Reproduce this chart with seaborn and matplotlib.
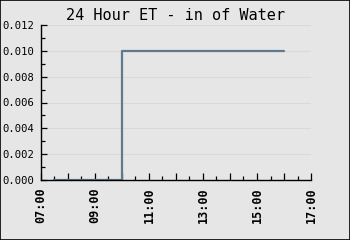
import matplotlib
matplotlib.use("Agg")
import matplotlib.pyplot as plt
import seaborn as sns
import pandas as pd
from matplotlib.ticker import MultipleLocator, FixedLocator, FixedFormatter

# Data (hours of day, inches of water)
hours = [7.5, 10.0, 16.0]
et_values = [0.0, 0.010, 0.010]
x_tick_hours = [7, 8, 9, 10, 11, 12, 13, 14, 15, 16, 17]
x_tick_labels = ["07:00", "", "09:00", "", "11:00", "", "13:00", "", "15:00", "", "17:00"]
y_ticks = [0.000, 0.002, 0.004, 0.006, 0.008, 0.010, 0.012]
y_tick_labels = ["0.000", "0.002", "0.004", "0.006", "0.008", "0.010", "0.012"]
title = "24 Hour ET - in of Water"

df = pd.DataFrame({"hour": hours, "et": et_values})

sns.set_theme(style="white")
plt.rcParams["font.family"] = ["DejaVu Sans Mono", "DejaVu Sans"]
plt.rcParams["text.color"] = "black"
plt.rcParams["xtick.color"] = "black"
plt.rcParams["ytick.color"] = "black"

bg = "#e6e6e6"
fig = plt.figure(figsize=(3.5, 2.4), dpi=100, facecolor=bg)
ax = fig.add_axes([41/350, 60/240, 270/350, 155/240])
ax.set_facecolor(bg)

sns.lineplot(data=df, x="hour", y="et", ax=ax, drawstyle="steps-post",
             color="#5f7a8c", linewidth=1.6)

ax.set_xlim(7, 17)
ax.set_ylim(0, 0.012)
ax.xaxis.set_major_locator(FixedLocator(x_tick_hours))
ax.xaxis.set_major_formatter(FixedFormatter(x_tick_labels))
ax.xaxis.set_minor_locator(MultipleLocator(0.5))
ax.set_yticks(y_ticks)
ax.set_yticklabels(y_tick_labels)
ax.yaxis.set_minor_locator(MultipleLocator(0.001))

ax.tick_params(axis="x", which="major", direction="in", length=5, width=0.9,
               pad=5, labelsize=8.5, labelrotation=90)
ax.tick_params(axis="x", which="minor", direction="in", length=3, width=0.9)
ax.tick_params(axis="y", which="major", direction="in", length=4, width=0.9,
               pad=5, labelsize=7.6)
ax.tick_params(axis="y", which="minor", direction="in", length=3, width=0.9)
ax.tick_params(which="both", bottom=True, left=True)
for lbl in ax.get_xticklabels():
    lbl.set_fontweight("bold")

ax.grid(axis="y", which="major", color="#d9d9d9", linewidth=0.8)
ax.grid(axis="x", visible=False)
ax.set_axisbelow(True)

for s in ["top", "right"]:
    ax.spines[s].set_visible(False)
for s in ["left", "bottom"]:
    ax.spines[s].set_color("black")
    ax.spines[s].set_linewidth(1.0)

ax.set_xlabel("")
ax.set_ylabel("")
fig.text(0.5, 1 - 15/240, title, ha="center", va="center", fontsize=11,
         color="black")

# figure border
fig.patches.append(plt.Rectangle((0, 0), 1, 1, transform=fig.transFigure,
                                 fill=False, edgecolor="black", linewidth=1.2))

fig.savefig("out.png", dpi=100, facecolor=bg)
